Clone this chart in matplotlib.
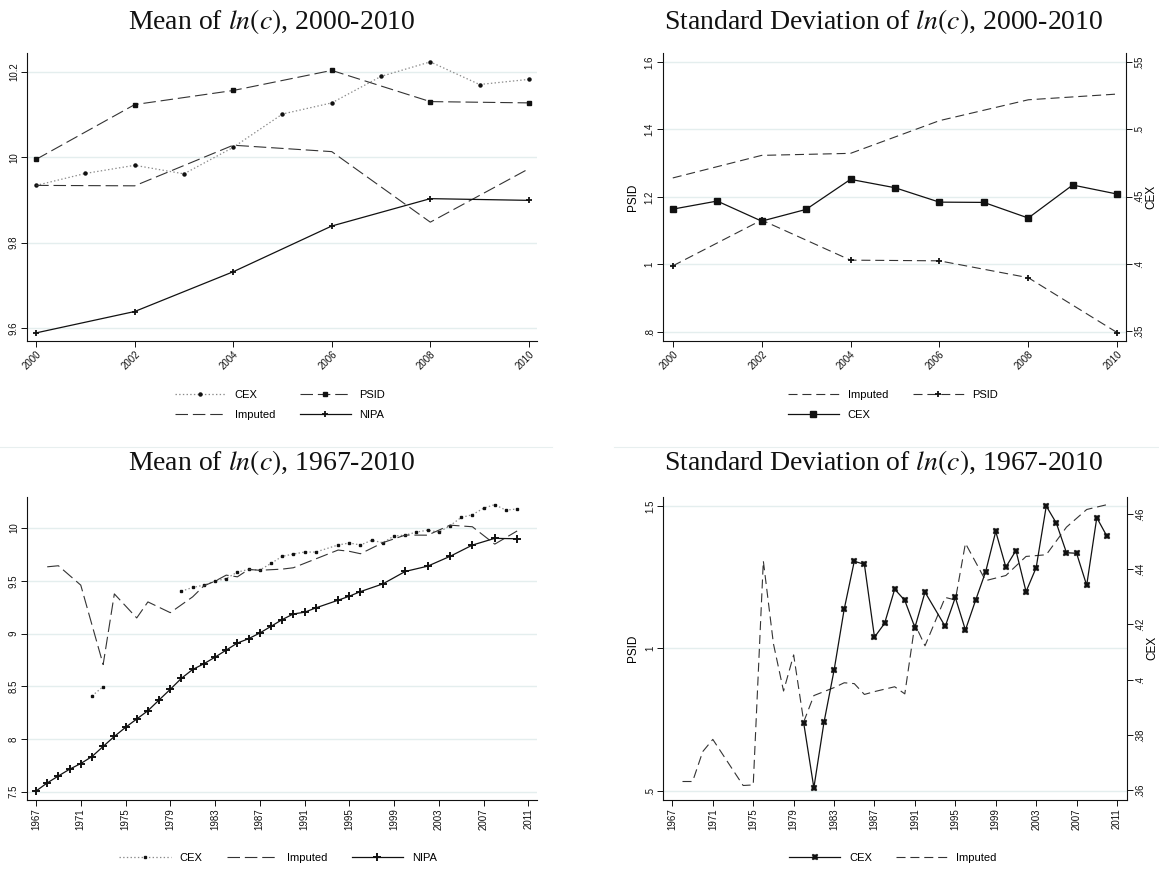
import matplotlib

matplotlib.use("Agg")
import matplotlib.pyplot as plt
import numpy as np
from matplotlib.lines import Line2D

plt.rcParams["font.family"] = ["Liberation Sans", "DejaVu Sans"]
plt.rcParams["mathtext.fontset"] = "stix"
plt.rcParams["lines.scale_dashes"] = False

GRID = "#e4eeee"
INK = "#111111"

# ---- mean of ln(c), 2000-2010 ----
YEARS_00 = [2000, 2001, 2002, 2003, 2004, 2005, 2006, 2007, 2008, 2009, 2010]
EVEN_YEARS_00 = [2000, 2002, 2004, 2006, 2008, 2010]
CEX_MEAN_00 = [9.934, 9.962, 9.981, 9.961, 10.023, 10.101, 10.127, 10.189, 10.223, 10.170, 10.182]
PSID_MEAN_00 = [9.995, 10.123, 10.156, 10.203, 10.130, 10.127]
IMPUTED_MEAN_00 = [9.934, 9.933, 10.028, 10.013, 9.848, 9.973]
NIPA_MEAN_00 = [9.589, 9.639, 9.732, 9.839, 9.903, 9.899]

# ---- standard deviation of ln(c), 2000-2010 ----
IMPUTED_SD_00 = [1.256, 1.323, 1.329, 1.426, 1.488, 1.505]
PSID_SD_00 = [0.995, 1.131, 1.012, 1.010, 0.960, 0.797]
CEX_SD_00 = [0.4408, 0.4468, 0.4319, 0.4406, 0.4629, 0.4567, 0.4460, 0.4458, 0.4342, 0.4587, 0.4520]

# ---- mean of ln(c), 1967-2010 ----
NIPA_YEARS_LONG = list(range(1967, 1993)) + [1994, 1995, 1996, 1998, 2000, 2002, 2004, 2006, 2008, 2010]
NIPA_MEAN_LONG = [7.506, 7.583, 7.649, 7.713, 7.767, 7.833, 7.929, 8.024, 8.110, 8.189,
                  8.268, 8.370, 8.471, 8.576, 8.659, 8.713, 8.776, 8.843, 8.910, 8.951,
                  9.005, 9.068, 9.132, 9.186, 9.202, 9.243,
                  9.316, 9.354, 9.398, 9.471, 9.589, 9.639, 9.732, 9.839, 9.903, 9.899]
CEX_YEARS_LONG = [1972, 1973, 1974] + list(range(1980, 1993)) + list(range(1994, 2011))
CEX_MEAN_LONG = [8.408, 8.497, np.nan,
                 9.402, 9.437, 9.459, 9.497, 9.522, 9.583, 9.608, 9.602, 9.665, 9.732, 9.754, 9.773, 9.773,
                 9.840, 9.859, 9.840, 9.884, 9.862, 9.925, 9.934, 9.962, 9.981, 9.961,
                 10.023, 10.101, 10.127, 10.189, 10.223, 10.170, 10.182]
IMPUTED_YEARS_LONG = [1968, 1969, 1971, 1973, 1974, 1976, 1977, 1979, 1981, 1982, 1983, 1984, 1985,
                      1986, 1987, 1989, 1990, 1994, 1995, 1996, 1998, 2000, 2002, 2004, 2006, 2008, 2010]
IMPUTED_MEAN_LONG = [9.633, 9.643, 9.459, 8.706, 9.376, 9.148, 9.300, 9.198, 9.348, 9.452, 9.497, 9.554, 9.538,
                     9.608, 9.600, 9.611, 9.624, 9.792, 9.780, 9.757, 9.862, 9.934, 9.933, 10.028, 10.013, 9.848, 9.973]

# ---- standard deviation of ln(c), 1967-2010 ----
IMPUTED_SD_YEARS_LONG = [1968, 1969, 1970, 1971, 1974, 1975, 1976, 1977, 1978, 1979, 1980, 1981, 1983,
                         1984, 1985, 1986, 1987, 1989, 1990, 1991, 1992, 1994, 1995, 1996, 1998,
                         2000, 2002, 2004, 2006, 2008, 2010]
IMPUTED_SD_LONG = [0.532, 0.532, 0.637, 0.680, 0.518, 0.520, 1.307, 1.016, 0.850, 0.977, 0.742, 0.834, 0.862,
                   0.879, 0.876, 0.838, 0.848, 0.865, 0.840, 1.085, 1.009, 1.179, 1.170, 1.369, 1.238,
                   1.256, 1.323, 1.329, 1.426, 1.488, 1.505]
CEX_SD_YEARS_LONG = list(range(1980, 1993)) + list(range(1994, 2011))
CEX_SD_LONG = [0.3842, 0.3608, 0.3845, 0.4034, 0.4255, 0.4429, 0.4418, 0.4154, 0.4204, 0.4328, 0.4287, 0.4189, 0.4317,
               0.4193, 0.4298, 0.4180, 0.4287, 0.4391, 0.4537,
               0.4408, 0.4468, 0.4319, 0.4406, 0.4629, 0.4567, 0.4460, 0.4458, 0.4342, 0.4587, 0.4520]

W, H = 1159, 872


def frac_box(left, top, right, bottom):
    """Pixel box -> figure fraction rect."""
    return [left / W, 1 - bottom / H, (right - left) / W, (bottom - top) / H]


def style_axis(ax, yticks, ylabels, xticks, xrot):
    ax.set_yticks(yticks)
    ax.set_yticklabels(ylabels)
    for y in yticks:
        ax.axhline(y, color=GRID, lw=1.0, zorder=0)
    ax.set_xticks(xticks)
    ax.set_xticklabels([str(x) for x in xticks])
    ax.tick_params(axis="both", direction="out", length=4, width=0.7, labelsize=7, colors=INK, pad=2)
    ax.tick_params(axis="y", labelrotation=90)
    for lab in ax.get_yticklabels():
        lab.set_va("center")
    if xrot == 45:
        plt.setp(ax.get_xticklabels(), rotation=45, ha="right", rotation_mode="anchor")
    else:
        plt.setp(ax.get_xticklabels(), rotation=90, ha="right", va="center", rotation_mode="anchor")
    ax.spines["top"].set_visible(False)
    ax.spines["right"].set_visible(False)
    for side in ("left", "bottom"):
        ax.spines[side].set_linewidth(0.8)
        ax.spines[side].set_color(INK)


def style_twin(tw, yticks, ylabels):
    tw.set_yticks(yticks)
    tw.set_yticklabels(ylabels)
    tw.tick_params(axis="y", direction="out", length=4, width=0.7, labelsize=7, colors=INK, pad=2, labelrotation=90)
    for lab in tw.get_yticklabels():
        lab.set_va("center")
    tw.spines["top"].set_visible(False)
    tw.spines["left"].set_visible(False)
    tw.spines["bottom"].set_visible(False)
    tw.spines["right"].set_linewidth(0.8)
    tw.spines["right"].set_color(INK)


def title(fig, text, xc, yc):
    fig.text(xc / W, 1 - yc / H, text, ha="center", va="center", fontsize=20,
             family="Liberation Serif", color=INK)


def legend(ax, handles, labels, ncol, xc, yc):
    ax.legend(handles, labels, ncol=ncol, loc="center", bbox_to_anchor=(xc / W, 1 - yc / H),
              bbox_transform=ax.figure.transFigure, frameon=False, fontsize=8,
              handlelength=4.6, handletextpad=0.8, columnspacing=2.2, labelspacing=0.9)


fig = plt.figure(figsize=(W / 100, H / 100), dpi=100)

# faint separators between the graph rows
fig.add_artist(Line2D([0, 552 / W], [1 - 447 / H] * 2, color="#e8efef", lw=0.8))
fig.add_artist(Line2D([614 / W, 1], [1 - 447 / H] * 2, color="#e8efef", lw=0.8))

dash_long = (9, 3.5)
dash_mid = (6.5, 3.5)

# Mean of ln(c), 2000-2010
ax1 = fig.add_axes(frac_box(27.3, 53.3, 536.7, 341))
h_cex, = ax1.plot(YEARS_00, CEX_MEAN_00, ls=":", color="#8a8a8a", lw=0.9, marker="o", ms=2.2,
                  mfc=INK, mec=INK)
h_imp, = ax1.plot(EVEN_YEARS_00, IMPUTED_MEAN_00, color="#333333", lw=0.8, dashes=dash_long)
h_psid, = ax1.plot(EVEN_YEARS_00, PSID_MEAN_00, color="#333333", lw=0.8, dashes=dash_long,
                   marker="s", ms=2.6, mfc=INK, mec=INK)
h_nipa, = ax1.plot(EVEN_YEARS_00, NIPA_MEAN_00, color=INK, lw=0.9, marker="+", ms=5, mew=1.3)
ax1.set_xlim(1999.82, 2010.16)
ax1.set_ylim(9.57, 10.243)
style_axis(ax1, [9.6, 9.8, 10.0, 10.2], ["9.6", "9.8", "10", "10.2"], EVEN_YEARS_00, 45)
title(fig, r"Mean of $\mathit{ln}(c)$, 2000-2010", 272, 21)
legend(ax1, [h_cex, h_imp, h_psid, h_nipa], ["CEX", "Imputed", "PSID", "NIPA"], 2, 280, 405)

# Standard deviation of ln(c), 2000-2010
ax2 = fig.add_axes(frac_box(663, 53.3, 1126, 341))
h_imp2, = ax2.plot(EVEN_YEARS_00, IMPUTED_SD_00, color="#333333", lw=0.8, dashes=dash_mid)
h_psid2, = ax2.plot(EVEN_YEARS_00, PSID_SD_00, color="#333333", lw=0.8, dashes=dash_mid,
                    marker="+", ms=5, mew=1.3, mec=INK)
ax2.set_xlim(1999.78, 2010.2)
ax2.set_ylim(0.772, 1.626)
style_axis(ax2, [0.8, 1.0, 1.2, 1.4, 1.6], [".8", "1", "1.2", "1.4", "1.6"], EVEN_YEARS_00, 45)
ax2.set_ylabel("PSID", fontsize=8.5, labelpad=4)
tw2 = ax2.twinx()
h_cex2, = tw2.plot(YEARS_00, CEX_SD_00, color=INK, lw=0.9, marker="s", ms=4, mfc=INK, mec=INK)
tw2.set_ylim(0.3429, 0.5565)
style_twin(tw2, [0.35, 0.40, 0.45, 0.50, 0.55], [".35", ".4", ".45", ".5", ".55"])
tw2.set_ylabel("CEX", fontsize=8.5, labelpad=1)
title(fig, r"Standard Deviation of $\mathit{ln}(c)$, 2000-2010", 884, 21)
legend(tw2, [h_imp2, h_cex2, h_psid2], ["Imputed", "CEX", "PSID"], 2, 893, 405)

# Mean of ln(c), 1967-2010
long_ticks = list(range(1967, 2012, 4))
ax3 = fig.add_axes(frac_box(27.3, 496.7, 536.7, 800))
h_cex3, = ax3.plot(CEX_YEARS_LONG, CEX_MEAN_LONG, ls=":", color="#8a8a8a", lw=0.9, marker="s", ms=2.0,
                   mfc=INK, mec=INK)
h_imp3, = ax3.plot(IMPUTED_YEARS_LONG, IMPUTED_MEAN_LONG, color="#333333", lw=0.8, dashes=dash_long)
h_nipa3, = ax3.plot(NIPA_YEARS_LONG, NIPA_MEAN_LONG, color=INK, lw=0.9, marker="+", ms=5.5, mew=1.4)
ax3.set_xlim(1966.22, 2011.75)
ax3.set_ylim(7.421, 10.298)
style_axis(ax3, [7.5, 8.0, 8.5, 9.0, 9.5, 10.0], ["7.5", "8", "8.5", "9", "9.5", "10"], long_ticks, 90)
title(fig, r"Mean of $\mathit{ln}(c)$, 1967-2010", 272, 462)
legend(ax3, [h_cex3, h_imp3, h_nipa3], ["CEX", "Imputed", "NIPA"], 3, 278, 858)

# Standard deviation of ln(c), 1967-2010
ax4 = fig.add_axes(frac_box(663.3, 496.7, 1126.7, 800))
h_imp4, = ax4.plot(IMPUTED_SD_YEARS_LONG, IMPUTED_SD_LONG, color="#333333", lw=0.8, dashes=dash_mid)
ax4.set_xlim(1966.1, 2011.96)
ax4.set_ylim(0.467, 1.533)
style_axis(ax4, [0.5, 1.0, 1.5], [".5", "1", "1.5"], long_ticks, 90)
ax4.set_ylabel("PSID", fontsize=8.5, labelpad=4)
tw4 = ax4.twinx()
h_cex4, = tw4.plot(CEX_SD_YEARS_LONG, CEX_SD_LONG, color=INK, lw=0.9, marker="X", ms=5, mfc=INK, mec=INK, mew=0.3)
tw4.set_ylim(0.3564, 0.4663)
style_twin(tw4, [0.36, 0.38, 0.40, 0.42, 0.44, 0.46], [".36", ".38", ".4", ".42", ".44", ".46"])
tw4.set_ylabel("CEX", fontsize=8.5, labelpad=1)
title(fig, r"Standard Deviation of $\mathit{ln}(c)$, 1967-2010", 884, 462)
legend(tw4, [h_cex4, h_imp4], ["CEX", "Imputed"], 2, 893, 858)

fig.savefig("out.png", dpi=100, facecolor="white")
